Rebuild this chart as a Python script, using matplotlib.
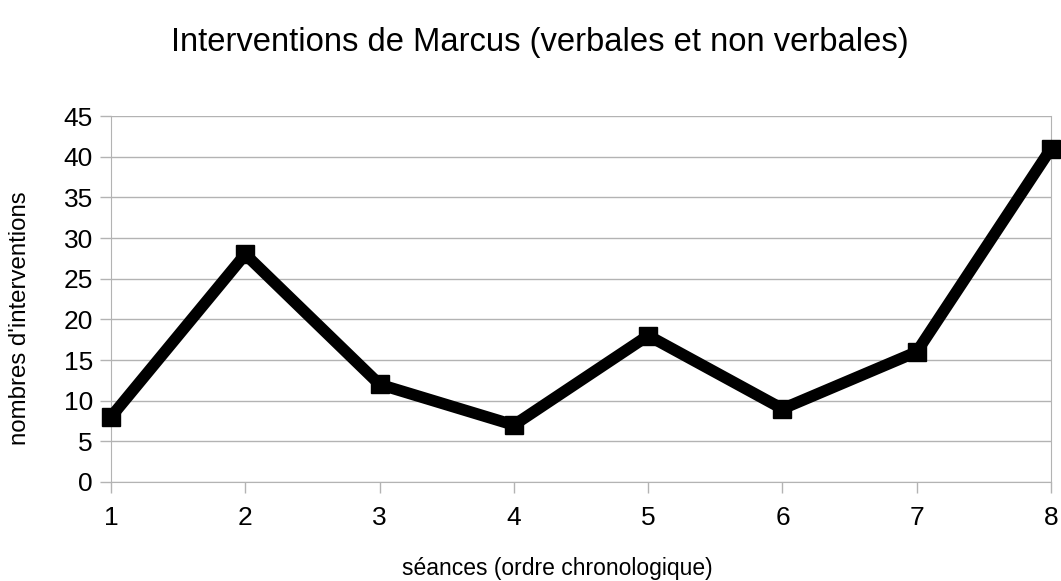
import matplotlib
matplotlib.use("Agg")
import matplotlib.pyplot as plt

seances = [1, 2, 3, 4, 5, 6, 7, 8]
interventions = [8, 28, 12, 7, 18, 9, 16, 41]
yticks = [0, 5, 10, 15, 20, 25, 30, 35, 40, 45]

plt.rcParams['font.family'] = ['Liberation Sans', 'DejaVu Sans']

fig = plt.figure(figsize=(10.61, 5.81), dpi=100)
ax = fig.add_axes([0.1046, 0.1704, 0.9906 - 0.1046, 0.8003 - 0.1704])

ax.plot(seances, interventions, color='black', linewidth=8.3, marker='s',
        markersize=13, clip_on=False, zorder=3, solid_joinstyle='miter')

ax.set_xlim(1, 8)
ax.set_ylim(0, 45)
ax.set_xticks(seances)
ax.set_yticks(yticks)
ax.grid(axis='y', color='#b3b3b3', linewidth=1)
ax.set_axisbelow(True)
for s in ['left', 'right', 'bottom']:
    ax.spines[s].set_color('#b3b3b3')
ax.spines['top'].set_visible(False)
ax.tick_params(axis='both', colors='#b3b3b3', labelcolor='black', labelsize=19,
               length=8, width=1)
ax.tick_params(axis='x', pad=9)
ax.tick_params(axis='y', pad=5)

fig.text(0.525, 0.021, 'séances (ordre chronologique)', fontsize=16.5,
         ha='center', va='center')
fig.text(0.019, 0.452, "nombres d'interventions", fontsize=17.3, rotation=90,
         ha='center', va='center')
fig.text(0.5085, 0.926, 'Interventions de Marcus (verbales et non verbales)',
         fontsize=23.6, ha='center', va='center')

fig.savefig('out.png', dpi=100)
